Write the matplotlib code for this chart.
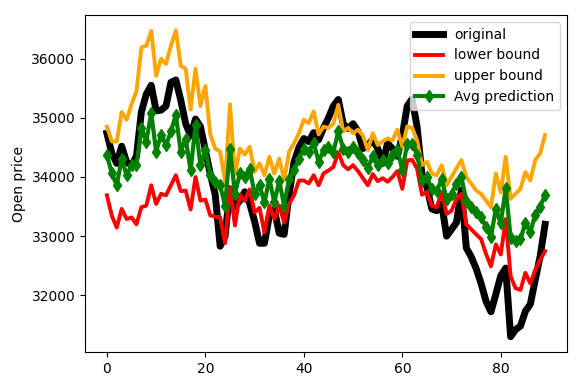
import matplotlib
matplotlib.use("Agg")
import matplotlib.pyplot as plt
import numpy as np

original = [34740, 34400, 34230, 34520, 34250, 34200, 34350, 35100, 35400, 35550,
            35120, 35130, 35200, 35600, 35640, 35300, 34900, 34700, 34980, 34850,
            34450, 34050, 33700, 32830, 33000, 33800, 33500, 33600, 33750, 33550,
            33250, 32880, 32880, 33350, 33450, 33050, 33030, 33700, 34250, 34500,
            34650, 34600, 34750, 34630, 34830, 35000, 35200, 35310, 34900, 34820,
            34900, 34770, 34480, 34540, 34630, 34480, 34230, 34570, 34480, 34350,
            34700, 35200, 35320, 34850, 34030, 33830, 33460, 33430, 33545, 33000,
            33115, 33230, 33780, 32800, 32650, 32450, 32200, 31900, 31720, 32020,
            32330, 32460, 31300, 31420, 31480, 31730, 31850, 32260, 32660, 33200]

lower = [33690, 33345, 33145, 33460, 33290, 33315, 33200, 33490, 33515, 33860,
         33545, 33715, 33690, 33860, 34030, 33760, 33770, 33450, 34000, 33600,
         33620, 33350, 33330, 33320, 32880, 33830, 33180, 33700, 33600, 33790,
         33400, 33480, 33060, 33515, 33290, 33515, 33230, 33545, 33690, 33940,
         33940, 33890, 34030, 33860, 34060, 34110, 34170, 34420, 34200, 34130,
         34200, 34100, 33980, 33860, 34050, 33930, 33980, 33920, 34000, 34100,
         33800, 34280, 34290, 34140, 33700, 33745, 33515, 33490, 33745, 33375,
         33430, 33630, 33715, 33200, 33115, 33030, 32950, 32700, 32490, 32860,
         32690, 33290, 32320, 32120, 32090, 32380, 32200, 32430, 32600, 32745]

upper = [34850, 34600, 34600, 35100, 34970, 35230, 35450, 36190, 36220, 36470,
         35710, 36000, 35910, 36220, 36480, 35880, 35830, 35140, 35830, 35200,
         35540, 34720, 34480, 34430, 33910, 35230, 34030, 34480, 34380, 34510,
         34085, 34230, 34030, 34340, 34060, 34310, 33950, 34430, 34570, 34740,
         34970, 34910, 35110, 34720, 34850, 34830, 34900, 35220, 34770, 34830,
         34740, 34800, 34700, 34455, 34740, 34540, 34600, 34650, 34620, 34800,
         34510, 34855, 34830, 34620, 34200, 34260, 34060, 34030, 34200, 33860,
         34000, 34150, 34285, 34000, 33890, 33770, 33715, 33600, 33490, 34060,
         33740, 34340, 33630, 33715, 33800, 34085, 33940, 34285, 34400, 34710]

avg_pred = [34370, 34060, 33860, 34310, 34030, 34200, 34200, 34830, 34600, 35080,
            34430, 34710, 34540, 34770, 35050, 34430, 34650, 34110, 34880, 34200,
            34455, 34030, 33910, 33860, 33515, 34480, 33715, 34060, 34000, 34140,
            33715, 33860, 33570, 33970, 33570, 33940, 33515, 33970, 34110, 34310,
            34480, 34430, 34570, 34260, 34455, 34510, 34430, 34770, 34480, 34430,
            34510, 34400, 34285, 34160, 34350, 34200, 34285, 34230, 34370, 34460,
            34120, 34560, 34560, 34380, 33950, 34000, 33790, 33760, 33970, 33620,
            33715, 33890, 34000, 33600, 33500, 33400, 33330, 33150, 32990, 33460,
            33215, 33815, 32975, 32920, 32945, 33230, 33070, 33360, 33500, 33700]

x = np.arange(len(original))

fig = plt.figure(figsize=(5.81, 3.88), dpi=100)
ax = fig.add_axes([85/581, 1-352/388, (567-85)/581, (352-15)/388])
ax.plot(x, original, color='black', lw=5, label='original')
ax.plot(x, lower, color='red', lw=2.8, label='lower bound')
ax.plot(x, upper, color='orange', lw=2.8, label='upper bound')
ax.plot(x, avg_pred, color='green', lw=3, marker='d', markersize=6, label='Avg prediction')
ax.set_ylabel('Open price')
ax.legend(loc='upper right')
fig.savefig('out.png', dpi=100)
